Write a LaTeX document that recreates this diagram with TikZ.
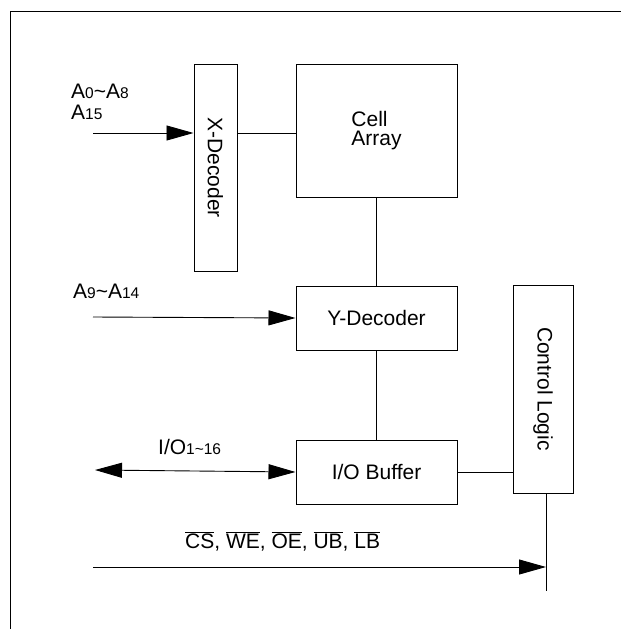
\documentclass[tikz,border=0pt]{standalone}
\usepackage{fontspec}
\setmainfont{Liberation Sans}
\usetikzlibrary{positioning,arrows.meta}
\tikzset{
block/.style={
draw,
line width=1pt,
inner sep=0pt,
minimum width=161pt,
align=left,
font=\fontsize{21}{19}\selectfont
},
vblock/.style={
draw,
line width=1pt,
inner sep=0pt,
rotate=-90,
font=\fontsize{21}{19}\selectfont
},
wire/.style={
line width=0.9pt
},
arrow/.style={
-{Triangle[length=27pt,width=15pt]},
line width=0.9pt
},
dblarrow/.style={
{Triangle[length=27pt,width=15pt]}-{Triangle[length=27pt,width=15pt]},
line width=0.9pt
},
lbl/.style={
inner sep=0pt,
anchor=base west,
font=\fontsize{21}{19}\selectfont
}
}
\newcommand{\lo}[1]{{\fontsize{15.5}{15.5}\selectfont #1}}
\newcommand{\ovl}[1]{$\overline{\mbox{#1}}$}

\begin{document}
\begin{tikzpicture}[x=1pt,y=-1pt]
\useasboundingbox (0,0) rectangle (621,629);
\draw[wire] (10,629) -- (10,11) -- (621,11);

\node[vblock,minimum width=207pt,minimum height=43pt](xdec) at (215.5,167.5){X-Decoder};
\node[block,minimum height=133pt](cell) at (376.5,130.5){Cell\\Array};
\node[block,minimum height=64pt,below=88pt of cell](ydec){Y-Decoder};
\node[block,minimum height=64pt,below=89pt of ydec](iobuf){I/O Buffer};
\node[vblock,minimum width=208pt,minimum height=60pt](ctrl) at (543,389){Control Logic};

\node[lbl](alab) at (71,98){A\lo{0}\textasciitilde A\lo{8}};
\node[lbl](alab2) at (71,119){A\lo{15}};
\node[lbl](blab) at (73,298){A\lo{9}\textasciitilde A\lo{14}};
\node[lbl](iolab) at (158,454){I/O\lo{1\textasciitilde 16}};
\node[lbl](cslab) at (185,548){\ovl{CS}, \ovl{WE}, \ovl{OE}, \ovl{UB}, \ovl{LB}};

\coordinate (ain) at (93,133);
\coordinate (bin) at (93,317);
\coordinate (ioend) at (95,470);
\coordinate (csin) at (93,567);
\coordinate (cend) at (546,591);

\draw[arrow](ain)--(ain -| xdec.south);
\draw[wire](ain -| xdec.north)--(ain -| cell.west);
\draw[arrow](bin)--(ydec.west);
\draw[wire](cell.south)--(ydec.north);
\draw[wire](ydec.south)--(iobuf.north);
\draw[dblarrow](ioend)--(iobuf.west);
\draw[wire](iobuf.east)--(iobuf.east -| ctrl.south);
\draw[wire](cend |- ctrl.east)--(cend);
\draw[arrow](csin)--(csin -| cend);
\end{tikzpicture}
\end{document}
